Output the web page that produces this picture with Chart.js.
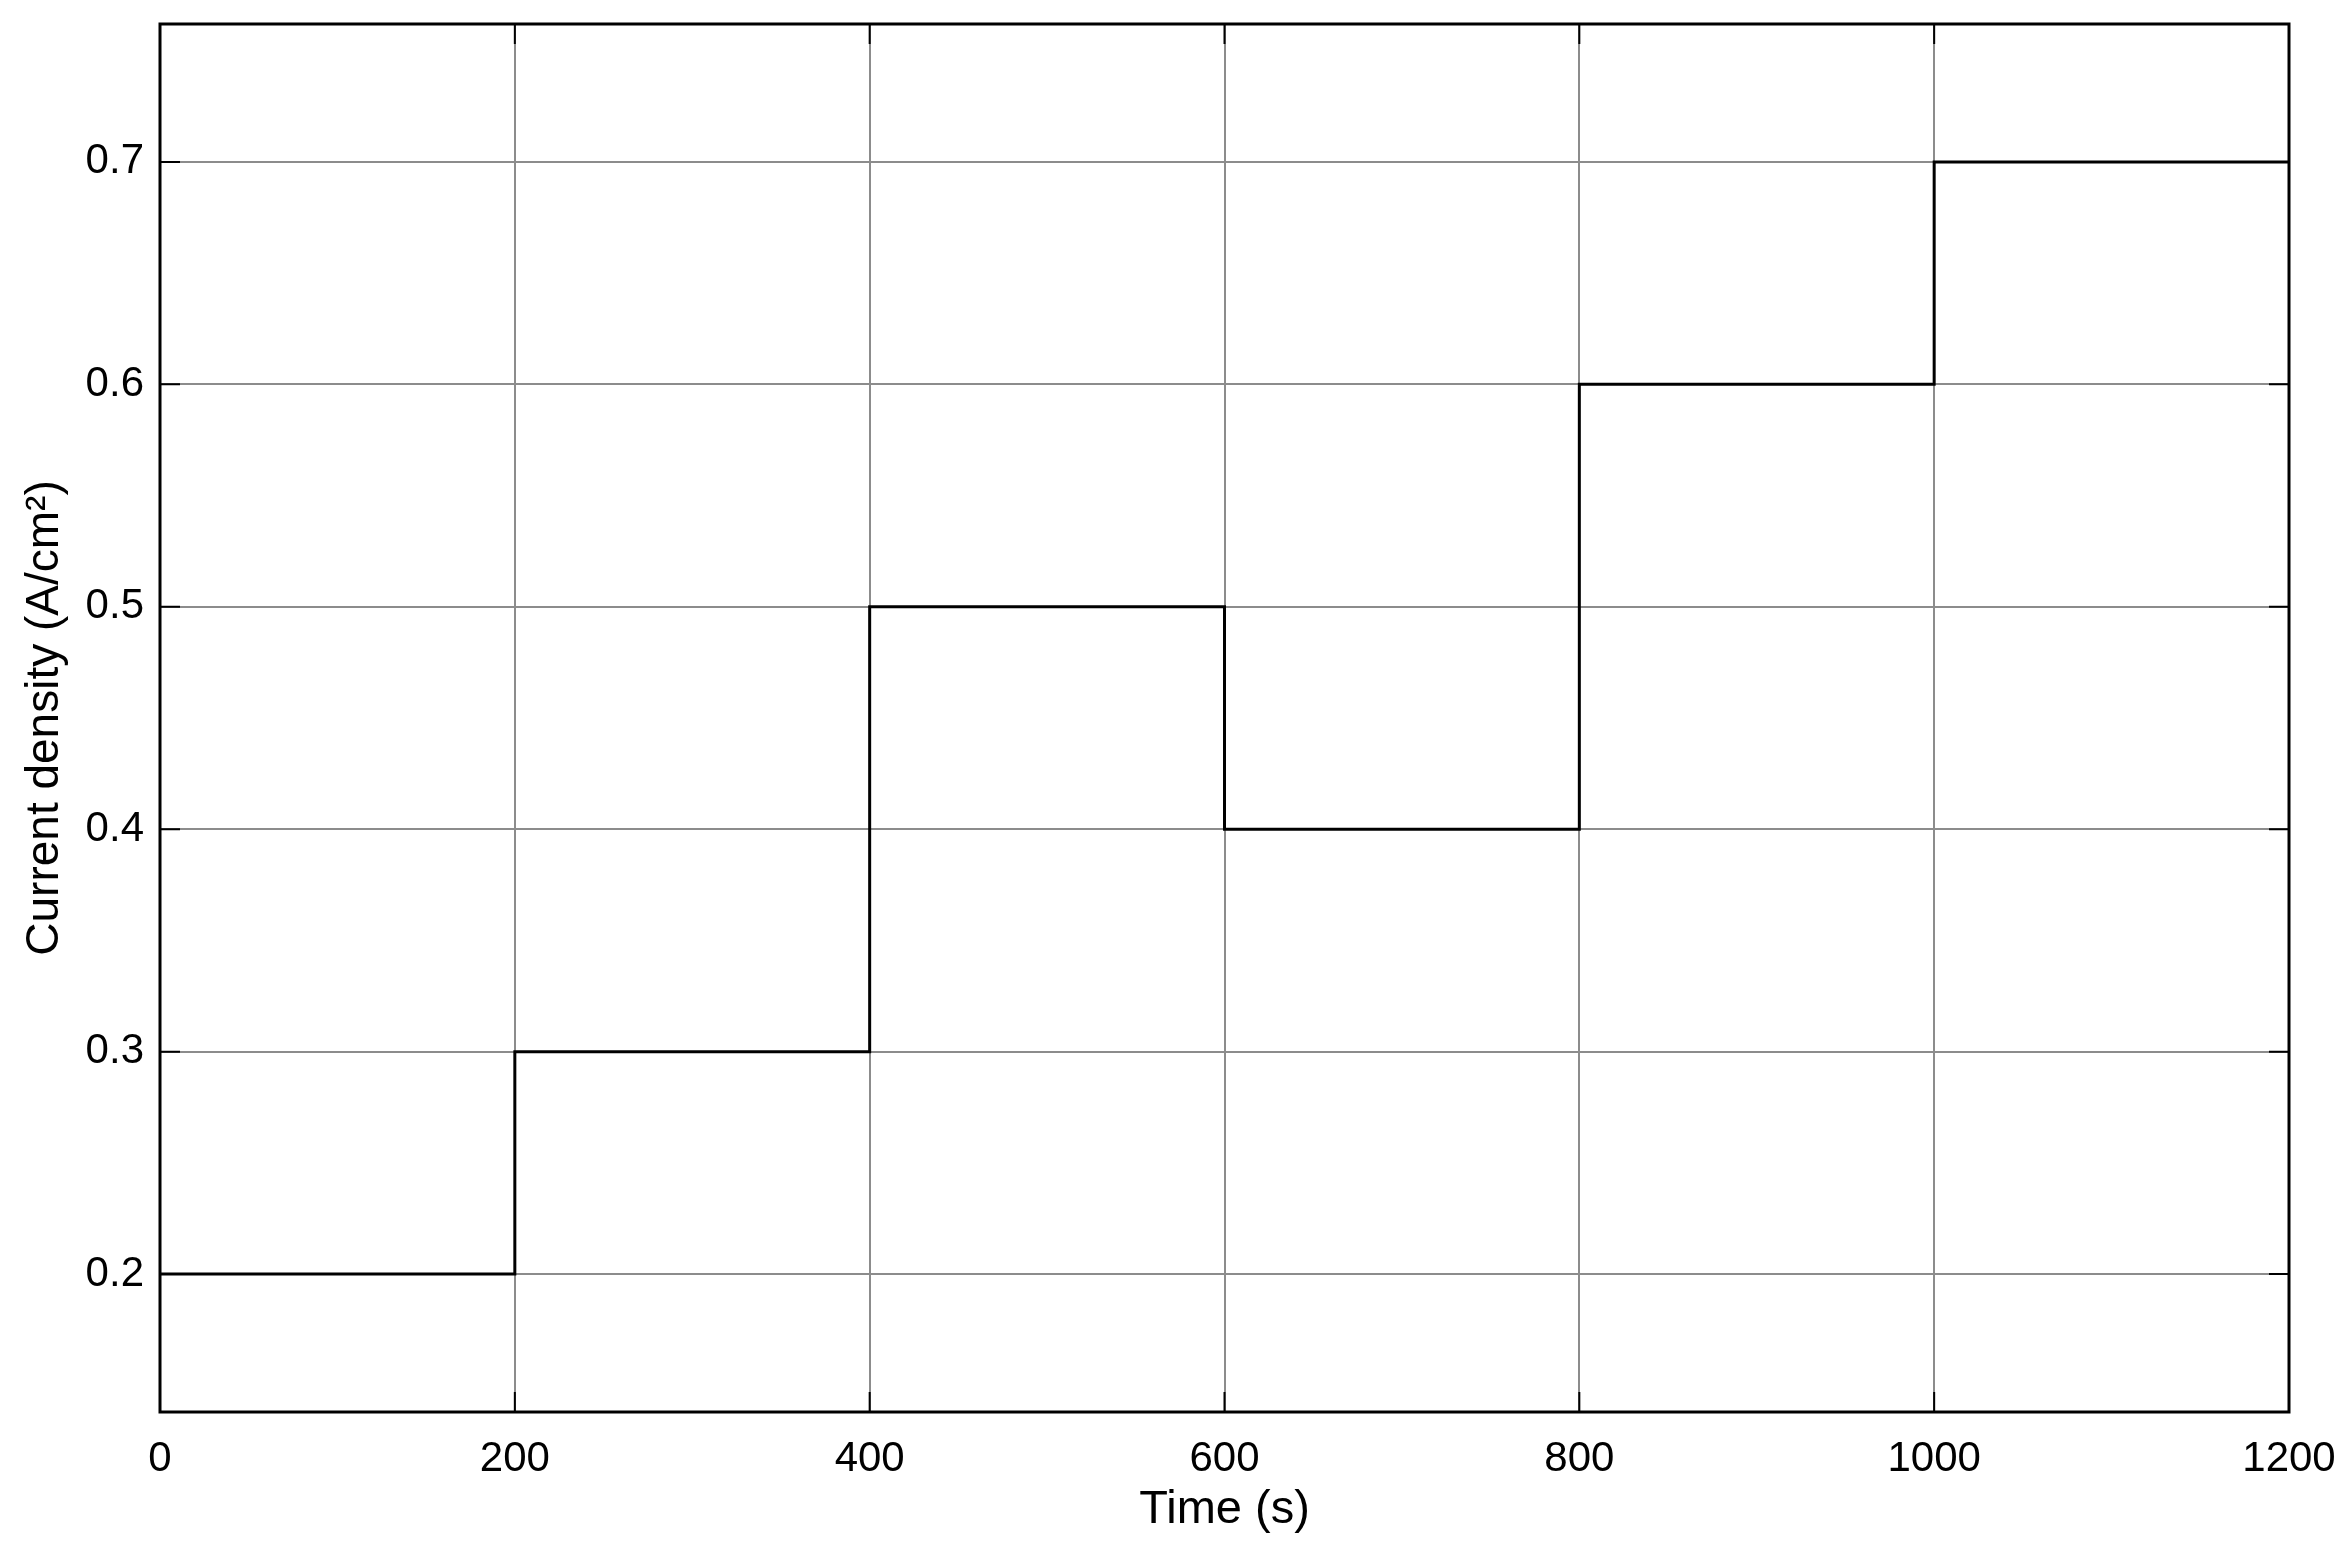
<!DOCTYPE html>
<html>
<head>
<meta charset="utf-8">
<script src="https://cdn.jsdelivr.net/npm/chart.js@4.4.1/dist/chart.umd.min.js"></script>
<style>
  html,body{margin:0;padding:0;background:#fff;}
  #wrap{width:2351px;height:1552px;}
</style>
</head>
<body>
<div id="wrap"><canvas id="canvas-current"></canvas></div>
<script>
// step profile: value held from each time until the next one
const timeSteps=[0,200,400,600,800,1000,1200]
const currentDensity=[0.2,0.3,0.5,0.4,0.6,0.7,0.7]
const xTicks=[0,200,400,600,800,1000,1200]
const yTicks=[0.2,0.3,0.4,0.5,0.6,0.7]

const canvas_current=document.querySelector("#canvas-current")
const fontName="'Liberation Sans', Arial, sans-serif"

// frame + inward ticks, matlab style
const boxPlugin={
  id:"boxPlugin",
  afterDraw(chart){
    const {ctx,chartArea:a,scales}=chart
    const tl=20
    ctx.save()
    ctx.strokeStyle="#000"
    ctx.lineWidth=2
    ctx.beginPath()
    xTicks.forEach(v=>{
      const px=scales.x.getPixelForValue(v)
      ctx.moveTo(px,a.bottom);ctx.lineTo(px,a.bottom-tl)
      ctx.moveTo(px,a.top);ctx.lineTo(px,a.top+tl)
    })
    yTicks.forEach(v=>{
      const py=scales.y.getPixelForValue(v)
      ctx.moveTo(a.left,py);ctx.lineTo(a.left+tl,py)
      ctx.moveTo(a.right,py);ctx.lineTo(a.right-tl,py)
    })
    ctx.stroke()
    ctx.lineWidth=3
    ctx.strokeRect(a.left,a.top,a.right-a.left,a.bottom-a.top)
    ctx.restore()
  }
}

// no extra room for edge labels, layout padding decides the box
const noEdgePad=scale=>{
  scale.paddingTop=0;scale.paddingBottom=0
  scale.paddingLeft=0;scale.paddingRight=0
}

new Chart(canvas_current,{
  type:'line',
  data:{
    datasets:[{
      label:"Current density",
      data:timeSteps.map((t,i)=>({x:t,y:currentDensity[i]})),
      stepped:'before',
      borderColor:"#000",
      borderWidth:3,
      pointRadius:0,
      fill:false
    }]
  },
  options:{
    responsive:true,
    maintainAspectRatio:false,
    animation:false,
    layout:{padding:{top:24,right:62,bottom:0,left:0}},
    plugins:{
      legend:{display:false},
      tooltip:{enabled:false}
    },
    scales:{
      x:{
        type:'linear',
        min:0,
        max:1200,
        afterFit(scale){scale.height=140;noEdgePad(scale)},
        afterBuildTicks(scale){scale.ticks=xTicks.map(v=>({value:v}))},
        grid:{color:"#8c8c8c",lineWidth:2,drawTicks:false},
        border:{display:false},
        ticks:{color:"#000",padding:22,maxRotation:0,font:{family:fontName,size:42},callback:v=>String(v)},
        title:{display:true,text:"Time (s)",color:"#000",font:{family:fontName,size:47},padding:{top:0,bottom:14}}
      },
      y:{
        type:'linear',
        min:0.138,
        max:0.762,
        afterFit(scale){scale.width=160;noEdgePad(scale)},
        afterBuildTicks(scale){scale.ticks=yTicks.map(v=>({value:v}))},
        grid:{color:"#8c8c8c",lineWidth:2,drawTicks:false},
        border:{display:false},
        ticks:{color:"#000",padding:16,font:{family:fontName,size:42},callback:v=>Number(v).toFixed(1)},
        title:{display:true,text:"Current density (A/cm²)",color:"#000",font:{family:fontName,size:46},padding:{top:18,bottom:0}}
      }
    }
  },
  plugins:[boxPlugin]
})
</script>
</body>
</html>
